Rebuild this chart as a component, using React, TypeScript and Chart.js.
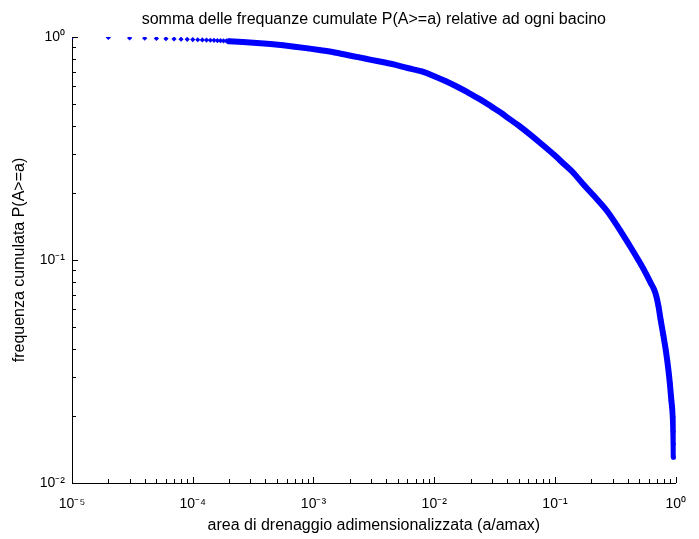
import React, { useEffect, useRef } from "react";
import { Chart, registerables } from "chart.js";

Chart.register(...registerables);

const TITLE = "somma delle frequanze cumulate P(A>=a) relative ad ogni bacino";
const X_LABEL = "area di drenaggio adimensionalizzata (a/amax)";
const Y_LABEL = "frequenza cumulata P(A>=a)";

const X_MIN = 1e-5;
const X_MAX = 1;
const Y_MIN = 1e-2;
const Y_MAX = 1;

// isolated points at the smallest areas
const sparseX = [
  1e-5, 2e-5, 3e-5, 4e-5, 5e-5, 6e-5, 7e-5, 8e-5, 9e-5, 10e-5,
  11e-5, 12e-5, 13e-5, 14e-5, 15e-5, 16e-5, 17e-5, 18e-5, 19e-5, 20e-5,
];
const sparseY = [
  1.0, 0.995, 0.99, 0.988, 0.985, 0.982, 0.98, 0.978, 0.976, 0.974,
  0.972, 0.97, 0.969, 0.967, 0.966, 0.964, 0.963, 0.961, 0.96, 0.958,
];

// dense part of the curve
const curveX = [
  2.0e-4, 2.6e-4, 3.4e-4, 4.4e-4, 5.6e-4, 7.0e-4, 9.0e-4, 1.15e-3, 1.5e-3, 1.9e-3,
  2.4e-3, 3.0e-3, 3.8e-3, 4.8e-3, 6.0e-3, 8.0e-3, 1.0e-2, 1.25e-2, 1.55e-2, 1.9e-2,
  2.4e-2, 3.0e-2, 3.6e-2, 4.1e-2, 5.0e-2, 6.2e-2, 7.6e-2, 0.1, 0.12, 0.14,
  0.17, 0.21, 0.265, 0.31, 0.358, 0.42, 0.49, 0.56, 0.62, 0.66,
  0.69, 0.72, 0.75, 0.79, 0.83, 0.865, 0.894, 0.92, 0.946, 0.955, 0.96, 0.963,
];
const curveY = [
  0.957, 0.95, 0.941, 0.93, 0.918, 0.905, 0.889, 0.872, 0.852, 0.83,
  0.81, 0.79, 0.77, 0.75, 0.726, 0.7, 0.667, 0.633, 0.598, 0.564,
  0.525, 0.486, 0.456, 0.433, 0.401, 0.366, 0.334, 0.294, 0.268, 0.248,
  0.22, 0.194, 0.168, 0.149, 0.132, 0.115, 0.1, 0.088, 0.079, 0.074,
  0.069, 0.062, 0.054, 0.046, 0.039, 0.033, 0.028, 0.0235, 0.0198, 0.017, 0.015, 0.0131,
];

const X_DECADES = [-5, -4, -3, -2, -1, 0];
const Y_DECADES = [-2, -1, 0];

const FONT = "'Liberation Sans', Arial, Helvetica, sans-serif";
const BLUE = "#0000ff";

const SUP: Record<string, string> = {
  "-": "\u207b", "0": "\u2070", "1": "\u00b9", "2": "\u00b2", "3": "\u00b3",
  "4": "\u2074", "5": "\u2075", "6": "\u2076", "7": "\u2077", "8": "\u2078", "9": "\u2079",
};

function decadeLabel(v: number): string {
  const e = Math.round(Math.log10(v));
  if (Math.abs(v - Math.pow(10, e)) / Math.pow(10, e) > 1e-6) return "";
  return "10" + String(e).split("").map((c) => SUP[c] || c).join("");
}

const inwardTicks = {
  id: "inwardTicks",
  afterDraw(chart: any) {
    const { ctx, chartArea, scales } = chart;
    const xs = scales.x;
    const ys = scales.y;
    ctx.save();
    ctx.strokeStyle = "#000";
    ctx.lineWidth = 1;
    ctx.beginPath();
    for (let i = 0; i < X_DECADES.length; i++) {
      const n = X_DECADES[i];
      const top = i === X_DECADES.length - 1 ? 1 : 9;
      for (let m = 1; m <= top; m++) {
        const v = m * Math.pow(10, n);
        const px = Math.round(xs.getPixelForValue(v)) + 0.5;
        const len = m === 1 ? 6 : 4;
        ctx.moveTo(px, chartArea.bottom);
        ctx.lineTo(px, chartArea.bottom - len);
      }
    }
    for (let i = 0; i < Y_DECADES.length; i++) {
      const n = Y_DECADES[i];
      const top = i === Y_DECADES.length - 1 ? 1 : 9;
      for (let m = 1; m <= top; m++) {
        const v = m * Math.pow(10, n);
        const py = Math.round(ys.getPixelForValue(v)) + 0.5;
        const len = m === 1 ? 6 : 4;
        ctx.moveTo(chartArea.left, py);
        ctx.lineTo(chartArea.left + len, py);
      }
    }
    ctx.stroke();
    ctx.restore();
  },
};

export default function App() {
  const ref = useRef<HTMLCanvasElement | null>(null);

  useEffect(() => {
    if (!ref.current) return;
    const sparse = sparseX.map((x, i) => ({ x, y: sparseY[i] }));
    const curve = curveX.map((x, i) => ({ x, y: curveY[i] }));
    const chart = new Chart(ref.current, {
      type: "scatter",
      data: {
        datasets: [
          {
            data: sparse,
            showLine: false,
            pointStyle: "rectRot",
            pointRadius: 2.6,
            pointBackgroundColor: BLUE,
            pointBorderColor: BLUE,
            pointBorderWidth: 0,
          },
          {
            data: curve,
            showLine: true,
            borderColor: BLUE,
            borderWidth: 6,
            borderJoinStyle: "round",
            borderCapStyle: "round",
            cubicInterpolationMode: "monotone",
            pointStyle: "rectRot",
            pointRadius: 3,
            pointBackgroundColor: BLUE,
            pointBorderColor: BLUE,
            pointBorderWidth: 0,
          },
        ],
      },
      options: {
        animation: false,
        responsive: false,
        maintainAspectRatio: false,
        layout: { padding: { left: 0, right: 11, top: 0, bottom: 0 } },
        plugins: {
          legend: { display: false },
          tooltip: { enabled: false },
          title: {
            display: true,
            fullSize: false,
            text: TITLE,
            color: "#000",
            font: { family: FONT, size: 16, weight: "normal" },
            padding: { top: 10, bottom: 7.8 },
          },
        },
        scales: {
          x: {
            type: "logarithmic",
            min: X_MIN,
            max: X_MAX,
            position: "bottom",
            grid: { display: false, drawTicks: false },
            border: { display: true, color: "#000", width: 1 },
            ticks: {
              autoSkip: false,
              maxRotation: 0,
              color: "#000",
              padding: 13,
              font: { family: FONT, size: 14 },
              callback: (v: any) => decadeLabel(Number(v)),
            },
            title: {
              display: true,
              text: X_LABEL,
              color: "#000",
              font: { family: FONT, size: 16 },
              padding: { top: 0, bottom: 3.5 },
            },
            afterFit: (s: any) => {
              s.height = 56;
            },
          },
          y: {
            type: "logarithmic",
            min: Y_MIN,
            max: Y_MAX,
            position: "left",
            grid: { display: false, drawTicks: false },
            border: { display: true, color: "#000", width: 1 },
            ticks: {
              autoSkip: false,
              color: "#000",
              padding: 7,
              font: { family: FONT, size: 14 },
              callback: (v: any) => decadeLabel(Number(v)),
            },
            title: {
              display: true,
              text: Y_LABEL,
              color: "#000",
              font: { family: FONT, size: 16 },
              padding: { top: 10, bottom: 0 },
            },
            afterFit: (s: any) => {
              s.width = 72;
            },
          },
        },
      },
      plugins: [inwardTicks],
    });
    return () => chart.destroy();
  }, []);

  return (
    <div style={{ position: "absolute", left: 0, top: 0, width: 699, height: 539, background: "#fff" }}>
      <canvas ref={ref} width={699} height={539} style={{ width: 699, height: 539 }} />
    </div>
  );
}
